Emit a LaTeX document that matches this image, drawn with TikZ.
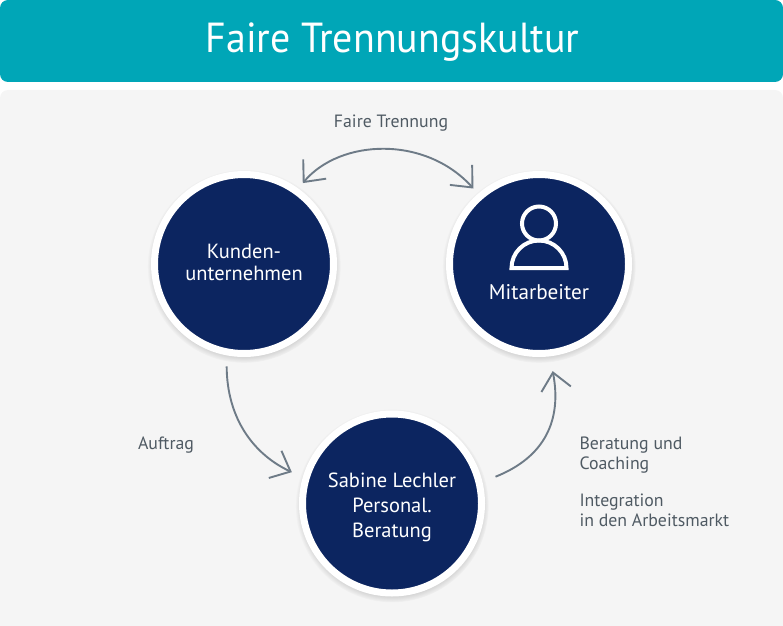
\documentclass[tikz,border=0pt]{standalone}
\usepackage{fontspec}
\setmainfont{PT Sans}
\usetikzlibrary{arrows.meta,shadows}
\definecolor{teal}{HTML}{00A6B7}
\definecolor{navy}{HTML}{0C2560}
\definecolor{panel}{HTML}{F5F5F5}
\definecolor{pfeilgrau}{HTML}{6E7B87}
\definecolor{schrift}{HTML}{4F5A63}
\tikzset{
  kreis/.style={circle, draw=white, line width=7pt, fill=navy, minimum size=179pt, inner sep=0pt, outer sep=10.5pt,
    text=white, align=center, circular drop shadow={shadow xshift=0pt, shadow yshift=-2pt, shadow scale=1.08, opacity=.6}},
  pfeil/.style={draw=pfeilgrau, line width=1.9pt, >={Straight Barb[length=17pt,width=30pt]}},
  etikett/.style={text=schrift, align=left, font=\fontsize{17.8}{20}\selectfont},
}
\begin{document}
\begin{tikzpicture}[x=1pt,y=1pt]

    \useasboundingbox (0,0) rectangle (783,625);
    \fill [panel, rounded corners=8pt] (0,-10) rectangle (783,535);
    \fill [teal, rounded corners=8pt] (0,543) rectangle (783,625);
    \node (titel) [text=white, font=\fontsize{42}{48}\selectfont] at (392.5,583) {\scalebox{.95}[1]{Faire Trennungskultur}};

    \node (kunde) [kreis, font=\fontsize{20.5}{22}\selectfont, text depth=3pt] at (244,361) {Kunden-\\unternehmen};
    \node (mitarbeiter) [kreis] at (539,361) {};
    \node (sabine) [kreis, font=\fontsize{20.5}{25}\selectfont, text height=73pt] at (392,121.5) {Sabine Lechler\\Personal.\\Beratung};
    \node (mitarbeitertext) [text=white, font=\fontsize{21.2}{22}\selectfont] at (539,333) {Mitarbeiter};

    % Person
    \draw [white, line width=4pt] (539,401.5) circle (17);
    \draw [white, line width=4pt] (511.5,357) arc (180:0:27.5) -- cycle;

    \draw [pfeil, <->] (kunde.54) .. controls (340,486) and (425,490) .. (mitarbeiter.131);
    \draw [pfeil, ->, shorten <=4pt, shorten >=5pt] (kunde.260) .. controls (227,205) and (255,170) .. (sabine.163);
    \draw [pfeil, ->, shorten <=7pt, shorten >=8pt] (sabine.14) .. controls (545,168) and (562,205) .. (mitarbeiter.277);

    \node (trennung) [etikett] at (391,501.5) {Faire Trennung};
    \node (auftrag) [etikett] at (166,180) {Auftrag};
    \node (beratung) [etikett, anchor=west] at (576,170) {Beratung und\\Coaching};
    \node (integration) [etikett, anchor=west] at (576,114.5) {Integration\\in den Arbeitsmarkt};

\end{tikzpicture}
\end{document}
